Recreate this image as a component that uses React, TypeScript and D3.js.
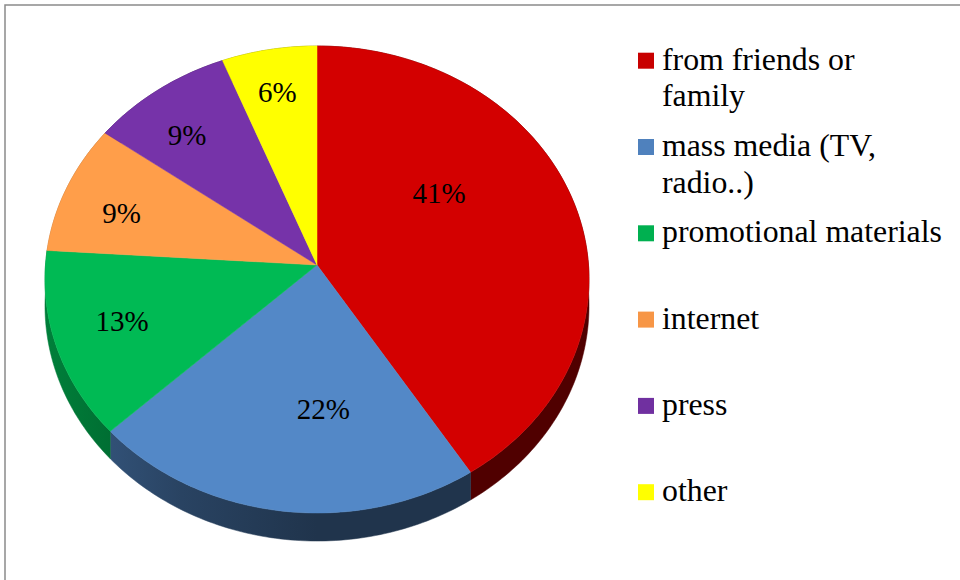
import React from "react";
import * as d3 from "d3";

// ---- data ----
const categories = [
  "from friends or\nfamily",
  "mass media (TV,\nradio..)",
  "promotional materials",
  "internet",
  "press",
  "other",
];
const values = [41, 22, 13, 9, 9, 6];
const valueLabels = ["41%", "22%", "13%", "9%", "9%", "6%"];
const seriesColors = ["#c80000", "#4f81bd", "#00b050", "#f79646", "#7030a0", "#ffff00"];

// ---- layout ----
const W = 960;
const H = 580;
const CX = 317;
const CY = 265;
const RX = 271.5;
const RY = 232.6;
const PERSP = 0.0621;
const DEPTH = 26.3;
const labelRadius = [0.558, 0.595, 0.746, 0.765, 0.764, 0.795];
const labelAngleShiftDeg = [-18.5, -9.4, 1.3, -2.4, -2.7, -0.3];
const FONT = "Liberation Serif";

function proj(theta: number, r: number, depth: number): [number, number] {
  const w = 1 + PERSP * r * Math.cos(theta);
  return [
    CX + (RX * r * Math.sin(theta)) / w,
    CY - (RY * r * Math.cos(theta)) / w + (depth * DEPTH) / w,
  ];
}

function arcPoints(a0: number, a1: number, depth: number): [number, number][] {
  const n = Math.max(2, Math.ceil(((a1 - a0) / (2 * Math.PI)) * 360));
  const pts: [number, number][] = [];
  for (let i = 0; i <= n; i++) {
    const t = a0 + ((a1 - a0) * i) / n;
    pts.push(proj(t, 1, depth));
  }
  return pts;
}

function shade(c: string, f: number): string {
  const col = d3.rgb(c);
  return d3.rgb(col.r * f, col.g * f, col.b * f).formatHex();
}

export default function App() {
  const pie = d3.pie<number>().sort(null).value((d) => d);
  const arcs = pie(values);
  const line = d3.line();

  const wallStops = [
    [0, 0.72],
    [0.25, 0.52],
    [0.5, 0.4],
    [1, 0.4],
  ];

  const legendX = 638;
  const legendTop = 52.7;
  const legendStep = 86.3;
  const sq = 16;

  return (
    <svg
      width={W}
      height={H}
      style={{ position: "absolute", left: 0, top: 0, display: "block", background: "#fff" }}
    >
      <defs>
        {arcs.map((a, i) => (
          <linearGradient
            key={i}
            id={`wall${i}`}
            gradientUnits="userSpaceOnUse"
            x1={CX - RX}
            y1={0}
            x2={CX + RX}
            y2={0}
          >
            {wallStops.map(([o, f], j) => (
              <stop key={j} offset={o} stopColor={shade(seriesColors[i], f)} />
            ))}
          </linearGradient>
        ))}
      </defs>
      <rect x={5} y={5} width={1000} height={1000} fill="#fff" stroke="#8a8a8a" strokeWidth={1.5} />

      {/* outer walls */}
      {arcs.map((a, i) => {
        const top = arcPoints(a.startAngle, a.endAngle, 0);
        const bot = arcPoints(a.startAngle, a.endAngle, 1).reverse();
        const d = line([...top, ...bot]) + "Z";
        return <path key={`w${i}`} d={d} fill={`url(#wall${i})`} stroke={`url(#wall${i})`} strokeWidth={0.5} />;
      })}

      {/* top faces */}
      {arcs.map((a, i) => {
        const top = arcPoints(a.startAngle, a.endAngle, 0);
        const d = line([[CX, CY], ...top]) + "Z";
        const c = d3.rgb(seriesColors[i]).brighter(0.15).formatHex();
        return <path key={`t${i}`} d={d} fill={c} stroke={c} strokeWidth={0.5} />;
      })}

      {/* data labels */}
      {arcs.map((a, i) => {
        const mid = (a.startAngle + a.endAngle) / 2 + (labelAngleShiftDeg[i] * Math.PI) / 180;
        const [x, y] = proj(mid, labelRadius[i], 0);
        return (
          <text
            key={`l${i}`}
            x={x}
            y={y}
            dy="0.35em"
            textAnchor="middle"
            style={{ fontFamily: FONT }}
            fontSize={29}
            fill="#000"
          >
            {valueLabels[i]}
          </text>
        );
      })}

      {/* legend */}
      {categories.map((c, i) => {
        const y0 = legendTop + legendStep * i;
        const lines = c.split("\n");
        return (
          <g key={`lg${i}`}>
            <rect x={legendX} y={y0} width={sq} height={sq} fill={seriesColors[i]} />
            <text x={legendX + 24} y={y0 + 17} style={{ fontFamily: FONT }} fontSize={31.8} fill="#000">
              {lines.map((ln, j) => (
                <tspan key={j} x={legendX + 24} dy={j === 0 ? 0 : 36.7}>
                  {ln}
                </tspan>
              ))}
            </text>
          </g>
        );
      })}
    </svg>
  );
}
